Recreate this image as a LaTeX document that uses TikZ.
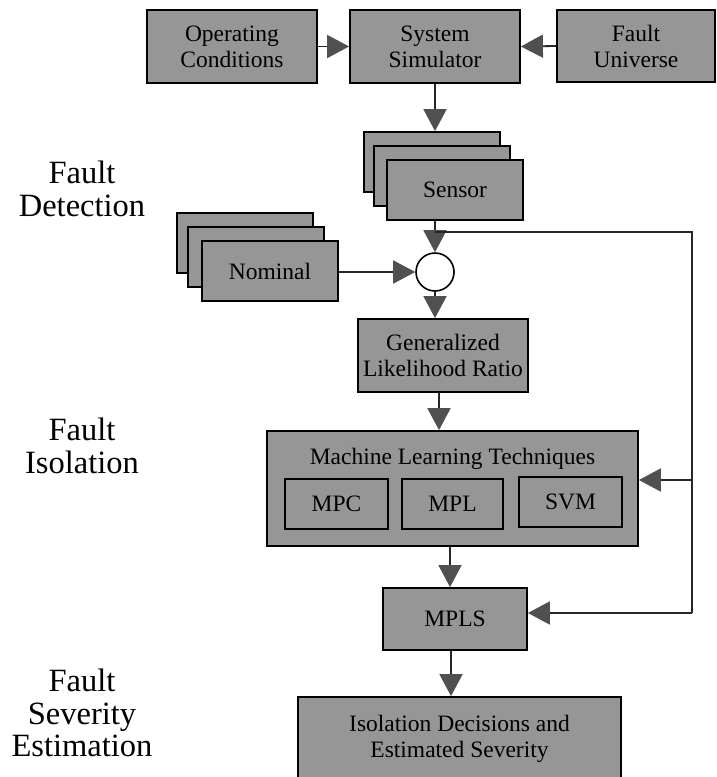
\documentclass[tikz,border=0pt]{standalone}
\usepackage{fontspec}
\setmainfont{Liberation Serif}
\usetikzlibrary{arrows.meta,calc}
\definecolor{boxgray}{RGB}{150,150,150}
\definecolor{tipgray}{RGB}{80,80,80}
\begin{document}
\begin{tikzpicture}[x=1pt,y=-1pt,
  blk/.style={draw=black, line width=1.8pt, fill=boxgray, inner sep=0pt, align=center, font=\fontsize{23.5}{26}\selectfont},
  lbl/.style={align=center, font=\fontsize{32.5}{32.5}\selectfont, inner sep=0pt},
  conn/.style={line width=1.8pt, draw=black!85},
  arr/.style={conn, -{Triangle[length=22pt,width=23pt,fill=tipgray,color=tipgray]}},
  sumnode/.style={circle, draw=black, line width=1.6pt, fill=white, minimum size=38pt, inner sep=0pt}]
\useasboundingbox (0,0) rectangle (716,777);
\clip (0,0) rectangle (716,777);

% top row
\node[blk, minimum width=170pt, minimum height=73pt] (oc) at (232,46.5) {Operating\\Conditions};
\node[blk, minimum width=170pt, minimum height=73pt] (ss) at (435,46.5) {System\\Simulator};
\node[blk, minimum width=158pt, minimum height=72pt] (fu) at (636,46) {Fault\\Universe};

% sensor stack
\node[blk, minimum width=136pt, minimum height=60pt] (sensA) at (432,162) {};
\node[blk, minimum width=136pt, minimum height=60pt] (sensB) at (442,176) {};
\node[blk, minimum width=136pt, minimum height=60pt] (sens) at (455,190) {Sensor};

% nominal stack
\node[blk, minimum width=136pt, minimum height=60pt] (nomA) at (245,243) {};
\node[blk, minimum width=136pt, minimum height=60pt] (nomB) at (256,257) {};
\node[blk, minimum width=136pt, minimum height=60pt] (nom) at (270,271) {Nominal};

% summing junction
\node[sumnode] (sum) at (435,272) {};

% GLR
\node[blk, minimum width=170pt, minimum height=73pt] (glr) at (443,355.5) {Generalized\\Likelihood Ratio};

% machine learning
\node[blk, minimum width=371pt, minimum height=115pt] (mlt) at (452.5,488.5) {};
\node[font=\fontsize{23.5}{26}\selectfont, inner sep=0pt] (mltt) at (452.5,459) {Machine Learning Techniques};
\node[blk, minimum width=103pt, minimum height=50pt] (mpc) at (336.5,504) {MPC};
\node[blk, minimum width=101pt, minimum height=50pt] (mpl) at (452.5,504) {MPL};
\node[blk, minimum width=103pt, minimum height=50pt] (svm) at (570.5,502) {SVM};

% MPLS
\node[blk, minimum width=144pt, minimum height=62pt] (mpls) at (455,619) {MPLS};

% output
\node[blk, minimum width=323pt, minimum height=84pt] (ides) at (459.5,739) {Isolation Decisions and\\Estimated Severity};

% stage labels
\node[lbl] (ld) at (82,189) {Fault\\Detection};
\node[lbl] (li) at (82,446) {Fault\\Isolation};
\node[lbl] (ls) at (82,713) {Fault\\Severity\\Estimation};

% connectors
\draw[arr] (oc.east) -- (ss.west);
\draw[arr] (fu.west) -- (ss.east);
\draw[arr] (ss.south) -- (ss.south |- sensA.north);
\draw[arr] (sens.south -| sum.north) -- (sum.north);
\draw[arr] (nom.east |- sum.west) -- (sum.west);
\draw[arr] (sum.south) -- (sum.south |- glr.north);
\draw[arr] ([xshift=-4pt]glr.south) -- ([xshift=-4pt]glr.south |- mlt.north);
\draw[arr] ([xshift=-5pt]mpls.north |- mlt.south) -- ([xshift=-5pt]mpls.north);
\draw[arr] ([xshift=-4pt]mpls.south) -- ([xshift=-4pt]mpls.south |- ides.north);

% feedback loop
\coordinate (fbStart) at (435,232);
\coordinate (fbTop) at (692,232);
\coordinate (fbMid) at (692,480);
\coordinate (fbBot) at (692,613);
\draw[conn] (fbStart) -- (fbTop) -- (fbBot);
\draw[arr] (fbMid) -- (fbMid -| mlt.east);
\draw[arr] (fbBot) -- (fbBot -| mpls.east);
\end{tikzpicture}
\end{document}
